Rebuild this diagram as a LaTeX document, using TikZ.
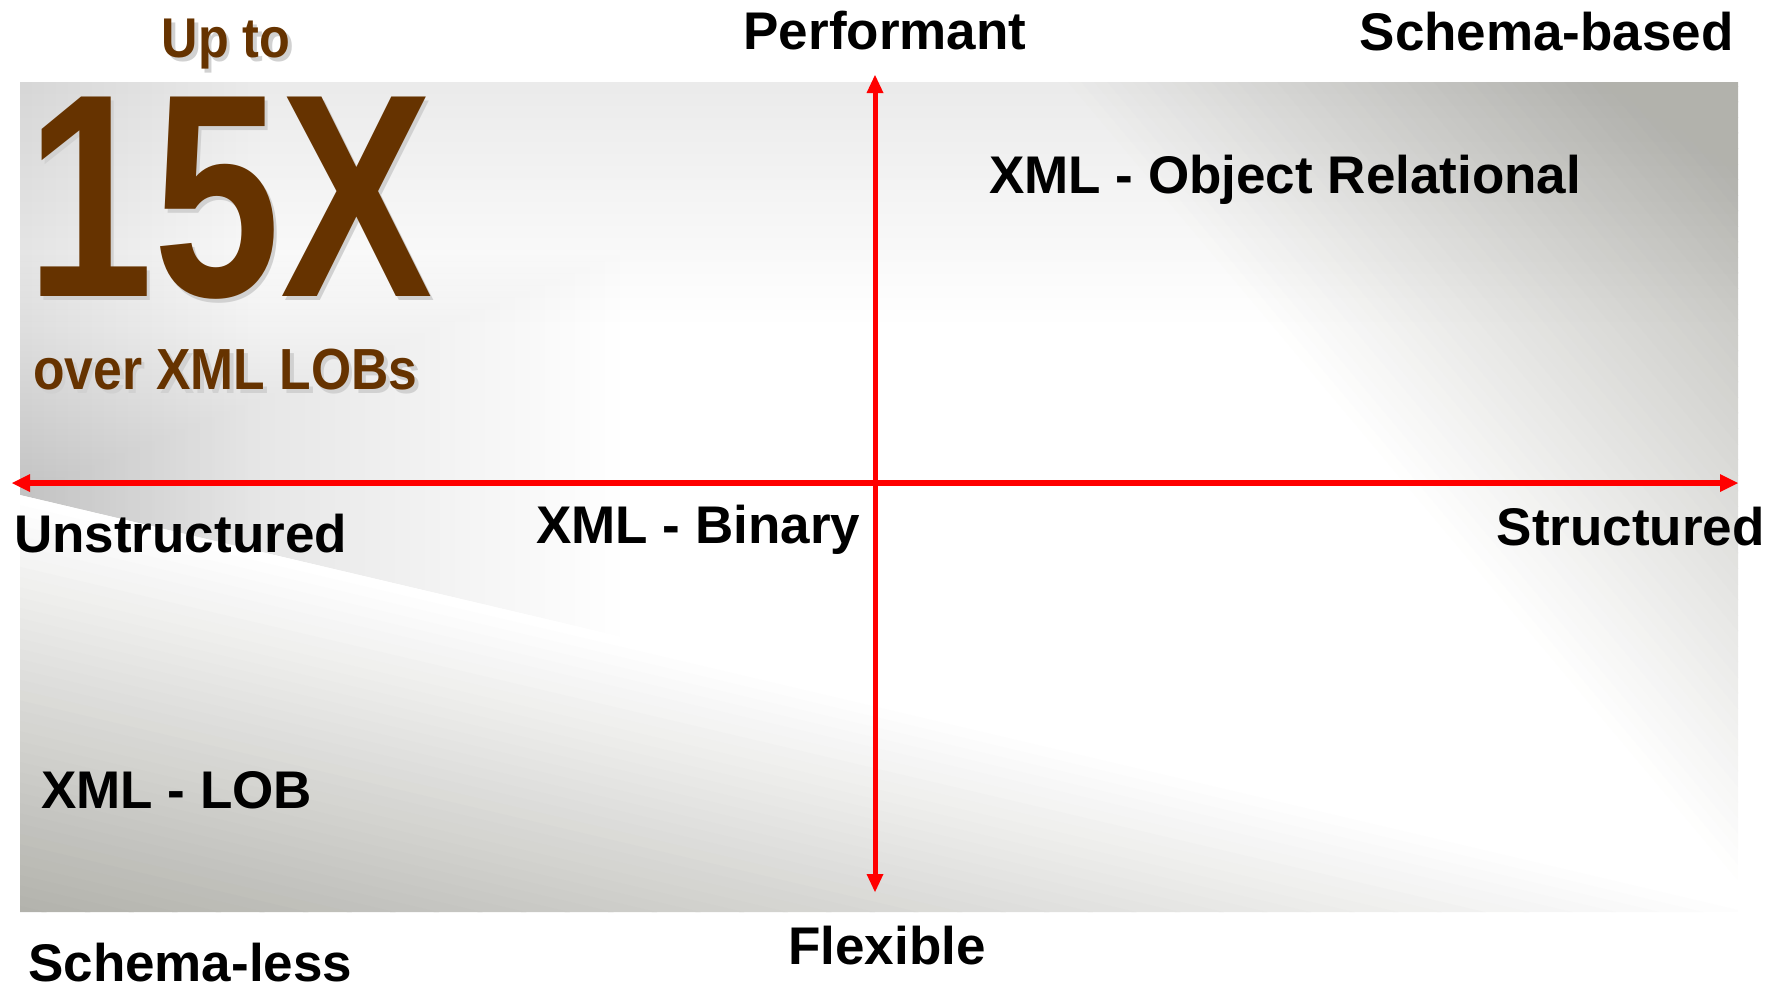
\documentclass[tikz,border=0pt]{standalone}
\usepackage{fontspec}
\setmainfont{Liberation Sans}
\definecolor{bgdark}{HTML}{B2B2AC}
\definecolor{lobbrown}{HTML}{663300}
\definecolor{axisred}{HTML}{FF0000}
\newcommand{\gainshade}[1]{\makebox[0pt][l]{\hspace{4pt}\raisebox{-4pt}{\textcolor{black!18}{#1}}}#1}
\begin{document}
\begin{tikzpicture}[x=1pt,y=-1pt]
\tikzstyle{every node}+=[inner sep=0pt]
\tikzstyle{lbl}=[font=\fontsize{53}{60}\selectfont\bfseries]
\tikzstyle{gain}=[text=lobbrown]
\tikzstyle{haze}=[bgdark, opacity=0.013]
\useasboundingbox (0,0) rectangle (1783,989);
% upper band
\begin{scope}
\clip (20,82) -- (1738,82) -- (1738,900) -- (20,495) -- cycle;
\fill [white] (20,82) rectangle (1738,912);
\begin{scope}[shift={(800,400)}, rotate=40]
\foreach \i in {0,...,70} {
  \pgfmathsetmacro{\t}{min(100,\i*10/5.5)}
  \fill [bgdark!\t!white] (400+\i*10,-1500) rectangle (411+\i*10,1500);
}
\end{scope}
\foreach \i in {0,...,19} {
  \fill [haze] (20,82) rectangle (1738,82+12*20-12*\i);
  \fill [haze] (20,82) rectangle (20+12*20-12*\i,912);
}
\foreach \i in {0,...,39}
  \fill [bgdark, opacity=0.006] (20,495-6*40+6*\i) rectangle (20+15*40-15*\i,912);
\end{scope}
% lower wedge
\begin{scope}
\clip (20,495) -- (1738,900) -- (1738,912) -- (20,912) -- cycle;
\begin{scope}[shift={(20,495)}, rotate=-13.26]
\foreach \i in {0,...,45} {
  \pgfmathsetmacro{\t}{min(100,2.5*\i)}
  \fill [bgdark!\t!white] (-100,\i*10) rectangle (1900,\i*10+11);
}
\end{scope}
\end{scope}
% axes
\coordinate (west) at (12,483);
\coordinate (east) at (1738,483);
\coordinate (north) at (875,75);
\coordinate (south) at (875,892);
\draw [axisred, line width=6pt, shorten <=14pt, shorten >=14pt] (west) -- (east);
\draw [axisred, line width=5pt, shorten <=14pt, shorten >=14pt] (north) -- (south);
\fill [axisred] (east) -- ++(-18,-9) -- ++(0,18) -- cycle;
\fill [axisred] (west) -- ++(18,-9) -- ++(0,18) -- cycle;
\fill [axisred] (north) -- ++(-8.5,18) -- ++(17,0) -- cycle;
\fill [axisred] (south) -- ++(-8.5,-18) -- ++(17,0) -- cycle;
% speed-up badge
\node [gain, anchor=base, font=\fontsize{56}{60}\selectfont\bfseries] (upto) at (226,57) {\scalebox{0.9}[1]{\gainshade{Up to}}};
\node [gain, anchor=base west, font=\fontsize{290}{300}\selectfont\bfseries] (fifteen) at (26,296) {\scalebox{0.788}[1]{\gainshade{15X}}};
\node [gain, anchor=base west, font=\fontsize{58}{62}\selectfont\bfseries] (over) at (33,389) {\scalebox{0.89}[1]{\gainshade{over XML LOBs}}};
% labels
\node [lbl, anchor=base] (perf) at (885,49) {Performant};
\node [lbl, anchor=base east] (schemab) at (1734,50) {Schema-based};
\node [lbl, anchor=base west] (xmlor) at (989,193) {XML - Object Relational};
\node [lbl, anchor=base west] (unstr) at (14,552) {Unstructured};
\node [lbl, anchor=base west] (xmlbin) at (536,543) {XML - Binary};
\node [lbl, anchor=base east] (struct) at (1765,545) {Structured};
\node [lbl, anchor=base west] (xmllob) at (41,808) {XML - LOB};
\node [lbl, anchor=base] (flex) at (887,964) {Flexible};
\node [lbl, anchor=base west] (schemal) at (28,981) {Schema-less};
\end{tikzpicture}
\end{document}
